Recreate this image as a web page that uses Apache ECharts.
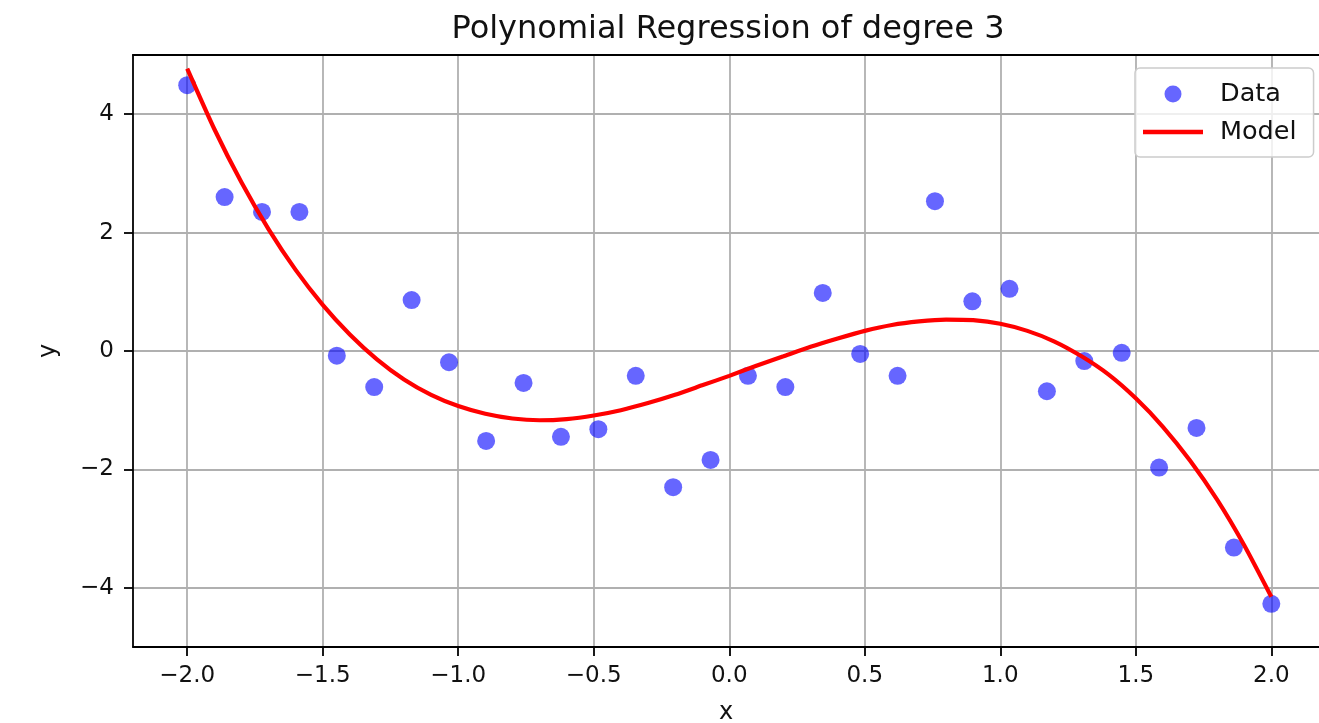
<!DOCTYPE html>
<html>
<head>
<meta charset="utf-8">
<script src="https://cdn.jsdelivr.net/npm/echarts@6/dist/echarts.min.js"></script>
<style>
  html, body { margin: 0; padding: 0; background: #fff; }
  #main { width: 1319px; height: 723px; }
</style>
</head>
<body>
<div id="main"></div>
<script>
const myChart = echarts.init(document.querySelector('#main'))

// scattered observations
const dataX = [-2.0, -1.862, -1.724, -1.586, -1.448, -1.310, -1.172, -1.034, -0.897, -0.759,
  -0.621, -0.483, -0.345, -0.207, -0.069, 0.069, 0.207, 0.345, 0.483, 0.621,
  0.759, 0.897, 1.034, 1.172, 1.310, 1.448, 1.586, 1.724, 1.862, 2.0]
const dataY = [4.49, 2.60, 2.35, 2.35, -0.08, -0.61, 0.86, -0.19, -1.52, -0.54,
  -1.45, -1.32, -0.42, -2.30, -1.84, -0.42, -0.61, 0.98, -0.05, -0.42,
  2.53, 0.84, 1.05, -0.68, -0.17, -0.03, -1.97, -1.30, -3.32, -4.27]

// fitted curve, every 0.1
const modelX = [-2.0, -1.9, -1.8, -1.7, -1.6, -1.5, -1.4, -1.3, -1.2, -1.1, -1.0,
  -0.9, -0.8, -0.7, -0.6, -0.5, -0.4, -0.3, -0.2, -0.1, 0.0,
  0.1, 0.2, 0.3, 0.4, 0.5, 0.6, 0.7, 0.8, 0.9, 1.0,
  1.1, 1.2, 1.3, 1.4, 1.5, 1.6, 1.7, 1.8, 1.9, 2.0]
const modelY = [4.77, 3.75, 2.85, 2.06, 1.37, 0.78, 0.28, -0.14, -0.48, -0.74, -0.93,
  -1.06, -1.14, -1.17, -1.15, -1.09, -1.00, -0.88, -0.74, -0.58, -0.42,
  -0.25, -0.09, 0.07, 0.21, 0.34, 0.44, 0.50, 0.53, 0.52, 0.46,
  0.34, 0.16, -0.09, -0.40, -0.80, -1.28, -1.85, -2.51, -3.28, -4.15]

const xTicks = [-2.0, -1.5, -1.0, -0.5, 0.0, 0.5, 1.0, 1.5, 2.0]
const yTicks = [-4, -2, 0, 2, 4]

const FONT = 'DejaVu Sans'
const minus = s => s.replace('-', '\u2212')

let option = {
  animation: false,
  textStyle: { fontFamily: FONT },
  title: {
    text: 'Polynomial Regression of degree 3',
    left: 723,
    textAlign: 'center',
    top: 9,
    textStyle: { fontFamily: FONT, fontSize: 32, fontWeight: 'normal', color: '#111' }
  },
  legend: {
    orient: 'vertical',
    left: 1135,
    top: 68,
    padding: [13, 17, 12, 8],
    itemWidth: 60,
    itemHeight: 17,
    itemGap: 12,
    backgroundColor: 'rgba(255,255,255,0.8)',
    borderColor: '#cccccc',
    borderWidth: 1.5,
    borderRadius: 5,
    textStyle: { fontFamily: FONT, fontSize: 25.5, color: '#111', padding: [0, 0, 0, 12] },
    data: [
      { name: 'Data', icon: 'circle', itemStyle: { color: 'rgba(0,0,255,0.6)' } },
      { name: 'Model', icon: 'path://M0,0h60v4.5h-60z', itemStyle: { color: '#ff0000' } }
    ]
  },
  grid: {
    left: 133,
    top: 55,
    right: 0,
    height: 592,
    show: false,
    outerBoundsMode: 'none'
  },
  xAxis: [
    {
      type: 'value',
      min: -2.2,
      max: 2.176,
      name: 'x',
      nameLocation: 'middle',
      nameGap: 54,
      nameTextStyle: { fontFamily: FONT, fontSize: 24, color: '#111' },
      axisLine: { show: true, onZero: false, lineStyle: { color: '#000', width: 1.8 } },
      axisTick: { show: true, inside: false, length: 9, customValues: xTicks, lineStyle: { color: '#000', width: 1.8 } },
      axisLabel: {
        customValues: xTicks, margin: 18, fontFamily: FONT, fontSize: 23, color: '#111',
        formatter: v => minus(v.toFixed(1))
      },
      splitLine: { show: true, lineStyle: { color: '#b0b0b0', width: 1.8 } }
    },
    {
      // top spine
      type: 'value',
      position: 'top',
      min: -2.2,
      max: 2.176,
      axisLine: { show: true, onZero: false, lineStyle: { color: '#000', width: 1.8 } },
      axisTick: { show: false },
      axisLabel: { show: false },
      splitLine: { show: false }
    }
  ],
  yAxis: {
    type: 'value',
    min: -5,
    max: 5,
    name: 'y',
    nameLocation: 'middle',
    nameGap: 72,
    nameRotate: 90,
    nameTextStyle: { fontFamily: FONT, fontSize: 24, color: '#111' },
    axisLine: { show: true, onZero: false, lineStyle: { color: '#000', width: 1.8 } },
    axisTick: { show: true, inside: false, length: 9, customValues: yTicks, lineStyle: { color: '#000', width: 1.8 } },
    axisLabel: {
      customValues: yTicks, margin: 19, fontFamily: FONT, fontSize: 23, color: '#111',
      formatter: v => minus(String(v))
    },
    splitLine: { show: true, lineStyle: { color: '#b0b0b0', width: 1.8 } }
  },
  series: [
    {
      name: 'Data',
      type: 'scatter',
      symbol: 'circle',
      symbolSize: 18,
      z: 2,
      itemStyle: { color: 'rgba(0,0,255,0.6)', opacity: 1 },
      data: dataX.map((x, i) => [x, dataY[i]])
    },
    {
      name: 'Model',
      type: 'line',
      smooth: 0.2,
      showSymbol: false,
      symbol: 'none',
      z: 3,
      lineStyle: { color: '#ff0000', width: 4.2 },
      itemStyle: { color: '#ff0000' },
      data: modelX.map((x, i) => [x, modelY[i]])
    }
  ]
};

option && myChart.setOption(option);
</script>
</body>
</html>
